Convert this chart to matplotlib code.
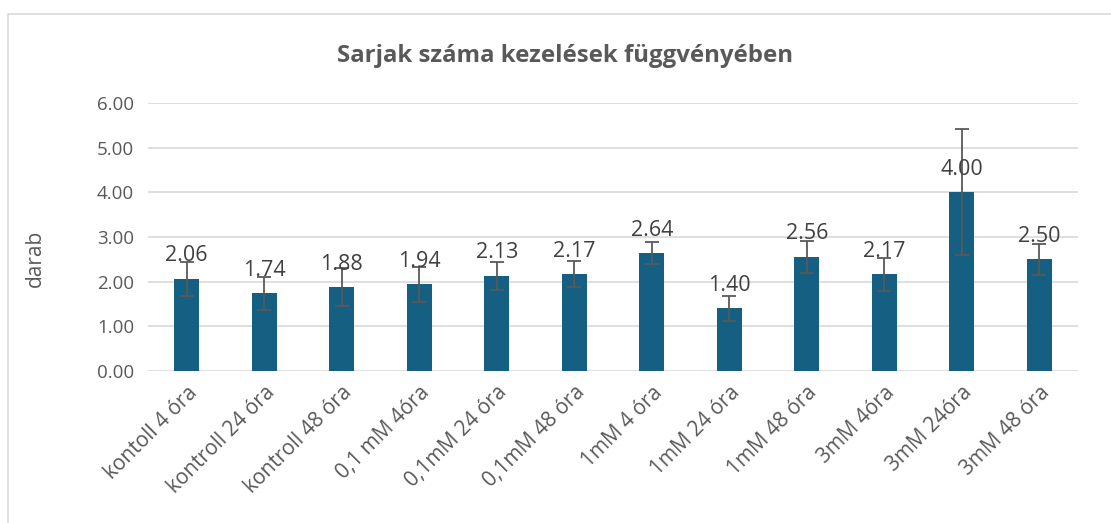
import matplotlib.pyplot as plt
from matplotlib.patches import Rectangle
import numpy as np

plt.rcParams['font.family'] = ['Open Sans', 'DejaVu Sans']

categories = ['kontoll 4 óra', 'kontroll 24 óra', 'kontroll 48 óra', '0,1 mM 4óra',
              '0,1mM 24 óra', '0,1mM 48 óra', '1mM 4 óra', '1mM 24 óra',
              '1mM 48 óra', '3mM 4óra', '3mM 24óra', '3mM 48 óra']
means = [2.06, 1.74, 1.88, 1.94, 2.13, 2.17, 2.64, 1.40, 2.56, 2.17, 4.00, 2.50]
errors = [0.38, 0.37, 0.43, 0.39, 0.32, 0.29, 0.25, 0.27, 0.36, 0.37, 1.41, 0.35]
yticks = [0, 1, 2, 3, 4, 5, 6]

fig = plt.figure(figsize=(11.11, 5.23), dpi=100)
ax = fig.add_axes([148 / 1111, 1 - 371 / 523, (1078 - 148) / 1111, (371 - 103) / 523])

# chart frame like in the spreadsheet
fig.patches.append(Rectangle((8 / 1111, -0.1), 1.2, 1 - 14 / 523 + 0.1, transform=fig.transFigure,
                             fill=False, edgecolor='#d9d9d9', linewidth=1.2))

x = np.arange(len(categories))
ax.bar(x, means, width=0.32, color='#156082', zorder=2)
ax.errorbar(x, means, yerr=errors, fmt='none', ecolor='#595959', elinewidth=1.3,
            capsize=5, capthick=1.3, zorder=3)

for xi, m in zip(x, means):
    ax.annotate(f'{m:.2f}', (xi, m), xytext=(0, 9), textcoords='offset points',
                ha='center', va='bottom', fontsize=15.5, color='#404040', zorder=4)

ax.set_xlim(-0.5, len(categories) - 0.5)
ax.set_ylim(0, 6)
ax.set_yticks(yticks)
ax.set_yticklabels([f'{t:.2f}' for t in yticks], fontsize=13.5, color='#595959')
ax.set_xticks(x)
ax.set_xticklabels(categories, rotation=45, ha='right', rotation_mode='anchor',
                   fontsize=15, color='#595959')
ax.tick_params(length=0, pad=10)
ax.tick_params(axis='x', pad=8)
ax.grid(axis='y', color='#d9d9d9', linewidth=1.2, zorder=0)
for s in ax.spines.values():
    s.set_visible(False)
ax.set_ylabel('darab', fontsize=15, color='#595959')
ax.yaxis.set_label_coords((46 - 148) / 930, 0.42)

fig.text(565 / 1111, 1 - 56 / 523, 'Sarjak száma kezelések függvényében', ha='center', va='center',
         fontsize=17.3, fontweight='bold', color='#595959')

fig.savefig('out.png', dpi=100)
